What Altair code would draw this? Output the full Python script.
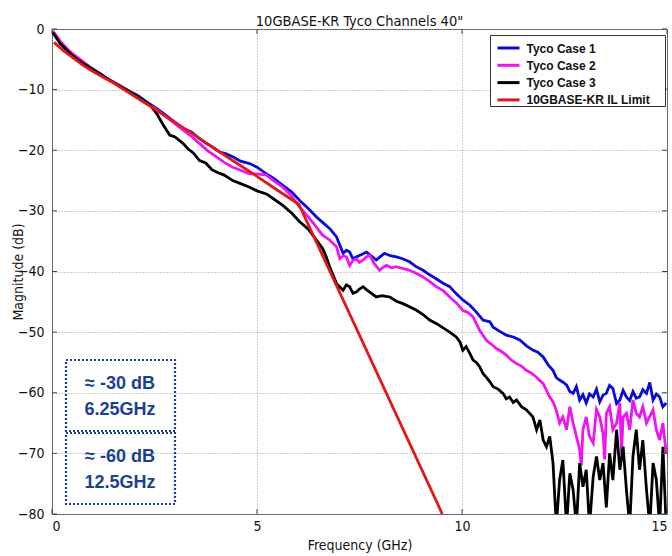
import altair as alt
import pandas as pd

FONT = "DejaVu Sans Condensed, Liberation Sans, Arial"
BFONT = "Liberation Sans, Arial"

# ---------------- data ----------------
series_names = ["Tyco Case 1", "Tyco Case 2", "Tyco Case 3", "10GBASE-KR IL Limit"]
series_colors = ["#0a0ad8", "#f015f0", "#000000", "#e01818"]

c1_f = [0.02, 0.2, 0.43, 0.7, 0.95, 1.16, 1.4, 1.65, 1.9, 2.1, 2.3, 2.55, 2.75, 3.0, 3.2, 3.4,
        3.6, 3.77, 3.95, 4.09, 4.25, 4.42, 4.6, 4.82, 5.0, 5.23, 5.4, 5.63, 5.85, 6.04, 6.25,
        6.45, 6.6, 6.77, 6.94, 7.1, 7.18, 7.26, 7.34, 7.42, 7.55, 7.67, 7.8, 7.91, 8.0, 8.11,
        8.25, 8.4, 8.55, 8.72, 8.88, 9.05, 9.2, 9.37, 9.55, 9.7, 9.85, 10.02, 10.2, 10.35,
        10.51, 10.68, 10.76, 10.9, 11.08, 11.25, 11.41, 11.58, 11.74, 11.85, 11.98, 12.1,
        12.22, 12.3, 12.38, 12.47, 12.55, 12.63, 12.71, 12.79, 12.87, 12.95, 13.03, 13.11,
        13.2, 13.28, 13.36, 13.44, 13.52, 13.6, 13.68, 13.77, 13.85, 13.93, 14.01, 14.09,
        14.17, 14.25, 14.33, 14.41, 14.5, 14.58, 14.66, 14.74, 14.82, 14.9, 14.98]
c1_db = [-0.5, -2.2, -3.8, -5.2, -6.4, -7.3, -8.4, -9.3, -10.3, -11.0, -12.0, -13.1, -14.1,
         -15.4, -16.4, -17.0, -18.1, -18.9, -19.6, -20.3, -20.6, -21.1, -21.8, -22.2, -22.8,
         -23.9, -24.6, -25.8, -26.9, -28.3, -29.6, -31.0, -31.9, -32.9, -34.3, -37.0, -36.5,
         -36.8, -37.9, -37.6, -37.2, -36.8, -37.5, -38.1, -37.6, -37.0, -37.4, -37.6, -37.9,
         -38.4, -39.2, -39.8, -40.5, -41.2, -42.0, -42.5, -43.6, -44.7, -45.6, -46.7, -48.0,
         -48.3, -49.2, -49.8, -50.5, -50.8, -51.3, -52.3, -53.0, -53.3, -54.1, -55.4, -56.3,
         -57.5, -57.9, -58.3, -58.7, -59.8, -60.1, -59.0, -61.2, -60.3, -61.7, -60.2, -60.7,
         -59.4, -61.5, -60.4, -60.1, -58.8, -59.3, -61.8, -61.2, -59.6, -60.7, -61.3, -59.8,
         -60.9, -60.7, -59.5, -60.1, -58.3, -61.2, -60.2, -60.7, -62.3, -61.7]

c2_f = [0.02, 0.2, 0.43, 0.7, 0.95, 1.16, 1.4, 1.65, 1.9, 2.1, 2.3, 2.55, 2.75, 3.0, 3.2, 3.4,
        3.6, 3.8, 4.01, 4.2, 4.41, 4.6, 4.82, 5.0, 5.23, 5.4, 5.63, 5.85, 6.04, 6.25, 6.45,
        6.6, 6.77, 6.94, 7.02, 7.1, 7.18, 7.26, 7.34, 7.42, 7.5, 7.59, 7.67, 7.75, 7.85, 7.99,
        8.08, 8.16, 8.28, 8.4, 8.55, 8.72, 8.88, 9.05, 9.2, 9.37, 9.55, 9.7, 9.85, 10.02,
        10.15, 10.27, 10.43, 10.6, 10.72, 10.84, 10.96, 11.08, 11.2, 11.33, 11.45, 11.57,
        11.7, 11.81, 11.9, 11.98, 12.06, 12.14, 12.22, 12.3, 12.38, 12.46, 12.55, 12.63,
        12.71, 12.79, 12.87, 12.91, 12.95, 13.03, 13.11, 13.2, 13.28, 13.36, 13.44, 13.48,
        13.52, 13.6, 13.68, 13.77, 13.85, 13.89, 13.93, 14.01, 14.09, 14.17, 14.25, 14.33,
        14.41, 14.5, 14.58, 14.66, 14.74, 14.82, 14.9, 14.98]
c2_db = [-0.3, -2.0, -3.7, -5.1, -6.4, -7.4, -8.4, -9.4, -10.4, -11.2, -12.1, -13.3, -14.3,
         -15.6, -16.7, -17.7, -18.9, -20.1, -21.1, -22.0, -22.8, -23.3, -23.9, -23.9, -24.1,
         -25.0, -26.1, -27.6, -29.4, -31.0, -32.7, -34.0, -34.8, -35.9, -37.9, -37.4, -37.6,
         -39.0, -38.2, -37.9, -38.5, -38.1, -37.6, -37.3, -38.6, -39.8, -39.3, -39.0, -39.4,
         -39.2, -39.5, -39.8, -40.3, -40.9, -41.6, -42.5, -43.2, -44.2, -45.1, -46.4, -46.8,
         -47.5, -49.7, -51.4, -52.0, -52.7, -53.2, -53.8, -54.6, -55.2, -55.6, -56.3, -56.8,
         -57.4, -58.0, -58.5, -59.6, -60.7, -61.5, -62.9, -65.0, -64.0, -66.1, -62.3, -65.0,
         -67.2, -69.4, -72.0, -66.1, -64.0, -67.2, -68.3, -62.8, -64.0, -66.7, -71.0, -63.4,
         -62.3, -66.1, -65.0, -61.7, -70.0, -64.0, -63.4, -66.1, -61.2, -63.4, -64.0, -62.3,
         -65.0, -63.9, -62.8, -66.1, -67.8, -65.0, -70.0]

c3_f = [0.02, 0.2, 0.5, 0.76, 1.0, 1.25, 1.5, 1.75, 2.0, 2.2, 2.4, 2.55, 2.71, 2.87, 3.0, 3.2,
        3.32, 3.44, 3.6, 3.75, 3.9, 4.01, 4.2, 4.41, 4.6, 4.82, 5.0, 5.23, 5.4, 5.63, 5.85,
        6.04, 6.25, 6.45, 6.6, 6.69, 6.77, 6.94, 7.1, 7.18, 7.26, 7.34, 7.42, 7.5, 7.59, 7.67,
        7.75, 7.91, 8.05, 8.24, 8.4, 8.56, 8.72, 8.89, 9.05, 9.21, 9.38, 9.54, 9.7, 9.86, 9.95,
        10.02, 10.1, 10.19, 10.27, 10.35, 10.43, 10.51, 10.6, 10.68, 10.76, 10.88, 11.0,
        11.08, 11.16, 11.25, 11.33, 11.45, 11.57, 11.65, 11.73, 11.82, 11.9, 11.98, 12.06,
        12.14, 12.22, 12.3, 12.38, 12.46, 12.55, 12.63, 12.71, 12.79, 12.87, 12.95, 13.03,
        13.11, 13.2, 13.28, 13.36, 13.44, 13.52, 13.6, 13.68, 13.77, 13.85, 13.93, 14.01,
        14.09, 14.17, 14.25, 14.33, 14.41, 14.5, 14.58, 14.66, 14.74, 14.82, 14.9, 14.98]
c3_db = [-0.6, -2.4, -4.4, -5.7, -6.7, -7.8, -8.8, -9.8, -10.8, -11.6, -12.6, -13.9, -15.8,
         -17.5, -17.8, -18.9, -19.8, -20.4, -21.7, -22.1, -23.2, -23.6, -24.1, -25.0, -25.5,
         -26.1, -26.7, -27.2, -28.0, -29.1, -30.4, -31.8, -33.0, -34.8, -36.2, -37.6, -39.2,
         -42.0, -43.1, -42.2, -42.5, -43.6, -43.4, -42.9, -42.5, -43.0, -43.4, -44.2, -44.0,
         -44.2, -44.9, -45.3, -45.8, -46.4, -47.1, -48.0, -48.6, -49.3, -50.0, -50.8, -51.6,
         -53.0, -52.4, -53.5, -54.6, -55.0, -55.7, -56.8, -57.5, -58.2, -59.0, -59.4, -60.1,
         -61.0, -60.7, -61.6, -61.2, -62.3, -62.8, -63.4, -64.0, -66.1, -64.5, -67.8, -68.9,
         -67.2, -71.6, -82.0, -74.4, -71.1, -82.0, -73.3, -76.0, -82.0, -71.6, -75.5, -72.7,
         -82.0, -73.8, -70.5, -74.4, -71.6, -78.9, -70.0, -74.4, -66.1, -72.7, -68.9, -76.0,
         -82.0, -70.5, -66.1, -72.7, -67.8, -76.0, -82.0, -71.6, -74.4, -82.0, -68.9, -82.0]

il_f = [0.05, 0.3, 0.5, 0.76, 1.0, 1.5, 1.9, 2.5, 3.0, 3.5, 4.0, 4.5, 5.0, 5.5, 6.02, 9.52]
il_db = [-2.2, -3.7, -4.7, -6.0, -7.0, -8.9, -10.6, -13.2, -15.4, -17.6, -19.9, -22.1,
         -24.3, -26.6, -28.9, -80.0]

x_ticks = [0, 5, 10, 15]
y_ticks = [0, -10, -20, -30, -40, -50, -60, -70, -80]

note_line1 = ["\u2248 -30 dB", "\u2248 -60 dB"]
note_line2 = ["6.25GHz", "12.5GHz"]

# ---------------- build ----------------
frames = []
for n, fs, ds in zip(series_names, [c1_f, c2_f, c3_f, il_f], [c1_db, c2_db, c3_db, il_db]):
    frames.append(pd.DataFrame({"series": n, "freq": fs, "mag": ds}))
df = pd.concat(frames, ignore_index=True)

W, H = 615, 485
x_scale = alt.Scale(domain=[0, 15], nice=False, zero=False)
y_scale = alt.Scale(domain=[-80, 0], nice=False, zero=False)

x_axis = alt.Axis(values=x_ticks, title="Frequency (GHz)", grid=True, tickSize=0,
                  domain=False, labelPadding=5, titlePadding=5)
y_axis = alt.Axis(values=y_ticks, title="Magnitude (dB)", grid=True, tickSize=0,
                  domain=False, labelPadding=8, titleX=-34, titleY=H / 2,
                  titleBaseline="middle", titleAlign="center", titleAngle=270)

color = alt.Color("series:N", scale=alt.Scale(domain=series_names, range=series_colors),
                  legend=None)

base = alt.Chart(df)
layers = []
for n in series_names:
    layers.append(
        base.transform_filter(alt.datum.series == n)
        .mark_line(strokeWidth=2.8, clip=True)
        .encode(
            x=alt.X("freq:Q", scale=x_scale, axis=x_axis),
            y=alt.Y("mag:Q", scale=y_scale, axis=y_axis),
            color=color,
        )
    )

xt = pd.DataFrame({"t": x_ticks})
yt = pd.DataFrame({"t": y_ticks})
tick_col = "#444"
ticks = [
    alt.Chart(xt).mark_rule(color=tick_col).encode(
        x=alt.X("t:Q", scale=x_scale), y=alt.value(H - 5), y2=alt.value(H)),
    alt.Chart(xt).mark_rule(color=tick_col).encode(
        x=alt.X("t:Q", scale=x_scale), y=alt.value(0), y2=alt.value(5)),
    alt.Chart(yt).mark_rule(color=tick_col).encode(
        y=alt.Y("t:Q", scale=y_scale), x=alt.value(0), x2=alt.value(5)),
    alt.Chart(yt).mark_rule(color=tick_col).encode(
        y=alt.Y("t:Q", scale=y_scale), x=alt.value(W - 5), x2=alt.value(W)),
]

one = pd.DataFrame({"k": [0]})

# legend box (drawn from the series lists)
legend = [
    alt.Chart(one).mark_rect(fill="white", stroke="#333", strokeWidth=1).encode(
        x=alt.value(438.5), x2=alt.value(613.5), y=alt.value(6.5), y2=alt.value(77.5))
]
for i, (n, c) in enumerate(zip(series_names, series_colors)):
    yy = 19 + 17.3 * i
    legend.append(
        alt.Chart(one).mark_rule(color=c, strokeWidth=3).encode(
            x=alt.value(445.5), x2=alt.value(467.5), y=alt.value(yy))
    )
    legend.append(
        alt.Chart(one).mark_text(font=BFONT, fontSize=12, fontWeight="bold", color="#111",
                                 align="left", baseline="middle").encode(
            x=alt.value(474.5), y=alt.value(yy + 0.5), text=alt.value(n))
    )

navy = "#1b3f93"
notes = []
box_tops = [331, 404]
for i in range(2):
    top = box_tops[i]
    notes.append(
        alt.Chart(one).mark_rect(fillOpacity=0, stroke=navy, strokeWidth=2.2,
                                 strokeDash=[2, 2]).encode(
            x=alt.value(14), x2=alt.value(123), y=alt.value(top), y2=alt.value(top + 71))
    )
    notes.append(
        alt.Chart(one).mark_text(font=BFONT, fontSize=18, fontWeight="bold", color=navy,
                                 align="center", baseline="middle").encode(
            x=alt.value(68), y=alt.value(top + 24), text=alt.value(note_line1[i]))
    )
    notes.append(
        alt.Chart(one).mark_text(font=BFONT, fontSize=18, fontWeight="bold", color=navy,
                                 align="center", baseline="middle").encode(
            x=alt.value(68), y=alt.value(top + 50), text=alt.value(note_line2[i]))
    )

chart = (
    alt.layer(*layers, *ticks, *legend, *notes)
    .properties(
        width=W, height=H,
        title=alt.TitleParams('10GBASE-KR Tyco Channels 40"', font=FONT, fontSize=14.5,
                              fontWeight="normal", color="#111", anchor="middle", offset=-7),
        padding={"left": 52, "top": 29, "right": 5, "bottom": 42},
        autosize=alt.AutoSizeParams(type="none"),
        background="white",
    )
    .configure_view(stroke="#555", strokeWidth=1)
    .configure_axis(
        labelFont=FONT, titleFont=FONT, labelFontSize=14, titleFontSize=14,
        labelColor="#111", titleColor="#111", titleFontWeight="normal",
        gridColor="#9a9a9a", gridDash=[1, 2], gridWidth=1, gridOpacity=1,
    )
)

chart.save("out.html", embed_options={"renderer": "svg", "actions": False})
